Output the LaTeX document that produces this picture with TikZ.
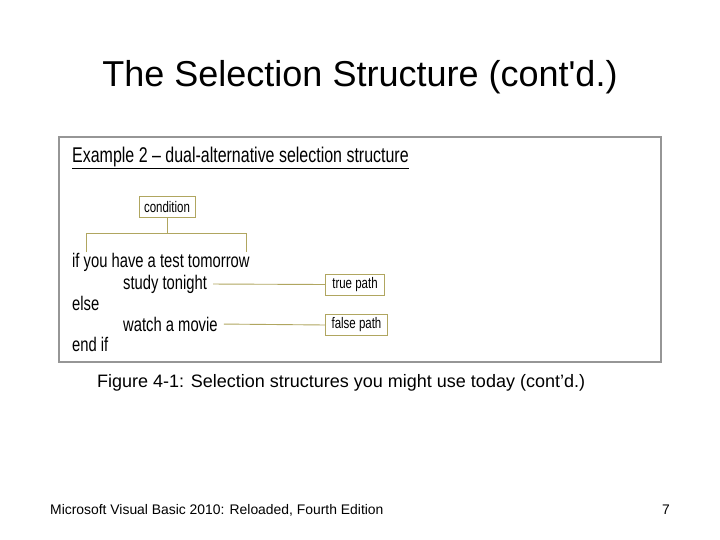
\documentclass[tikz,border=0pt]{standalone}
\usepackage{fontspec}
\setmainfont{Liberation Sans}[Ligatures=TeXOff]
\newfontfamily\narrowfont[FakeStretch=0.75,Ligatures=TeX]{Liberation Sans}
\definecolor{olive}{RGB}{176,166,96}
\definecolor{framegray}{RGB}{150,150,150}
\begin{document}
\begin{tikzpicture}[x=1pt,y=-1pt,
  slidetext/.style={inner sep=0pt, text=black},
  code/.style={inner sep=0pt, anchor=west, font=\narrowfont\fontsize{19.7}{22}\selectfont},
  tag/.style={draw=olive, line width=1pt, fill=white, inner sep=0pt, font=\narrowfont\fontsize{15.3}{17}\selectfont, minimum height=21},
  conn/.style={draw=olive, line width=0.9pt}]
\useasboundingbox[fill=white] (0,0) rectangle (720,540);
\node[slidetext, font=\fontsize{36}{40}\selectfont] (title) at (360,77) {The Selection Structure (cont'd.)};
\node[draw=framegray, line width=2pt, minimum width=602, minimum height=225, inner sep=0pt] (frame) at (360,249.5) {};
\node[code, font=\narrowfont\fontsize{21.3}{24}\selectfont] (ex) at (72,157) {Example 2 – dual-alternative selection structure};
\draw[line width=0.8pt] (ex.south west) ++(0,1) coordinate (ul1) -- (ex.south east |- ul1);
\node[tag, minimum width=56] (cond) at (167,207) {condition};
\node[code] (if) at (72,262) {if you have a test tomorrow};
\node[code] (study) at (123,284) {study tonight};
\node[code] (else) at (72,303) {else};
\node[code] (watch) at (123,324) {watch a movie};
\node[code] (endif) at (72,344) {end if};
\node[tag, minimum width=59, anchor=west] (true) at (325,284.5) {true path};
\node[tag, minimum width=62, anchor=west] (false) at (325,325) {false path};
\coordinate (jl) at (86,233);
\coordinate (jr) at (246,233);
\coordinate (ifl) at (86,252);
\coordinate (ifr) at (246,252);
\path[conn] (cond.south) -- (cond.south |- jl);
\path[conn] (ifl) -- (jl) -- (jr) -- (ifr);
\path[conn, shorten <=6pt] (study.east) -- (true.west);
\path[conn, shorten <=6pt] (watch.east) -- (false.west);
\node[slidetext, font=\fontsize{18}{21}\selectfont, anchor=west] (cap) at (97,383) {Figure 4-1: Selection structures you might use today (cont’d.)};
\node[slidetext, font=\fontsize{13.9}{16}\selectfont, anchor=west] (foot) at (50,510) {Microsoft Visual Basic 2010: Reloaded, Fourth Edition};
\node[slidetext, font=\fontsize{13.9}{16}\selectfont] (num) at (666,510) {7};
\end{tikzpicture}
\end{document}
